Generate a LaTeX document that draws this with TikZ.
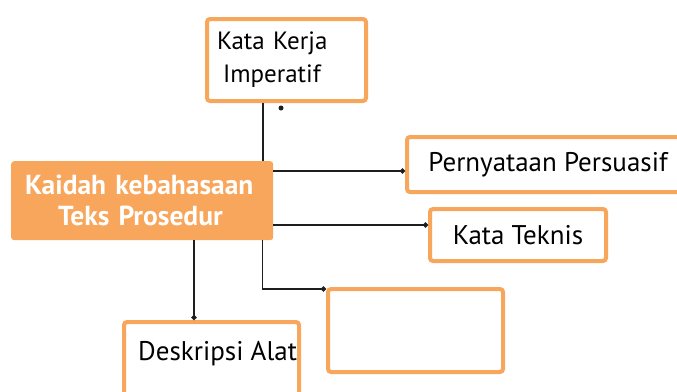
\documentclass[tikz,border=0pt]{standalone}
\usepackage{fontspec}
\setmainfont{PT Sans}
\usetikzlibrary{positioning,arrows.meta}
\definecolor{boxorange}{RGB}{248,166,92}
\definecolor{linkgray}{RGB}{30,30,30}
\tikzset{
  box/.style={draw=boxorange, line width=4pt, rounded corners=3pt, fill=white,
    inner sep=0pt, anchor=north west},
  headbox/.style={fill=boxorange, rounded corners=3pt, text=white, anchor=north west,
    font=\bfseries\fontsize{27.5}{31}\selectfont, align=left, inner ysep=0pt},
  link/.style={line width=1.5pt, draw=linkgray, -{Circle[length=5pt]}},
  plainlink/.style={line width=1.5pt, draw=linkgray},
}
\begin{document}
\begin{tikzpicture}[x=1pt,y=-1pt,font=\fontsize{27}{33}\selectfont]
  \useasboundingbox (0,0) rectangle (677,391);
  \clip (0,0) rectangle (677,391);

  \node (kerja) [box, minimum height=82pt, text width=139pt, inner xsep=10pt, align=left,
    font=\fontsize{25}{33}\selectfont]
    at (205,17) {Kata Kerja\\\hspace*{6pt}Imperatif};
  \node (main) [headbox, minimum height=79pt, text width=234pt, inner xsep=14pt]
    at (11,161) {Kaidah kebahasaan\\\hspace*{33pt}Teks Prosedur};
  \node (persuasif) [box, minimum width=282pt, minimum height=55pt]
    at (405,135) {Pernyataan Persuasif};
  \node (teknis) [box, minimum width=176pt, minimum height=52pt]
    at (428,207) {Kata Teknis};
  \node (kosong) [box, minimum width=175pt, minimum height=83pt] at (326,287) {};
  \node (alat) [box, minimum width=175pt, minimum height=90pt] at (122,320) {};
  \node (alattxt) [anchor=base west, inner sep=0pt]
    at ([shift={(16,40)}]alat.north west) {Deskripsi Alat};

  \draw[plainlink] ([xshift=58pt]kerja.south west) -- ([xshift=58pt]kerja.south west |- main.north);
  \fill[linkgray] ([shift={(76,5)}]kerja.south west) circle (2.5pt);
  \draw[link] ([yshift=-10pt]main.north east) -- ([yshift=-10pt]main.north east -| persuasif.west);
  \draw[link] ([yshift=-64pt]main.north east) -- ([yshift=-64pt]main.north east -| teknis.west);
  \draw[link] ([xshift=-11pt]main.south east) |- ([yshift=-2pt]kosong.north west);
  \draw[link] ([xshift=183pt]main.south west) -- ([xshift=183pt]main.south west |- alat.north);
\end{tikzpicture}
\end{document}
